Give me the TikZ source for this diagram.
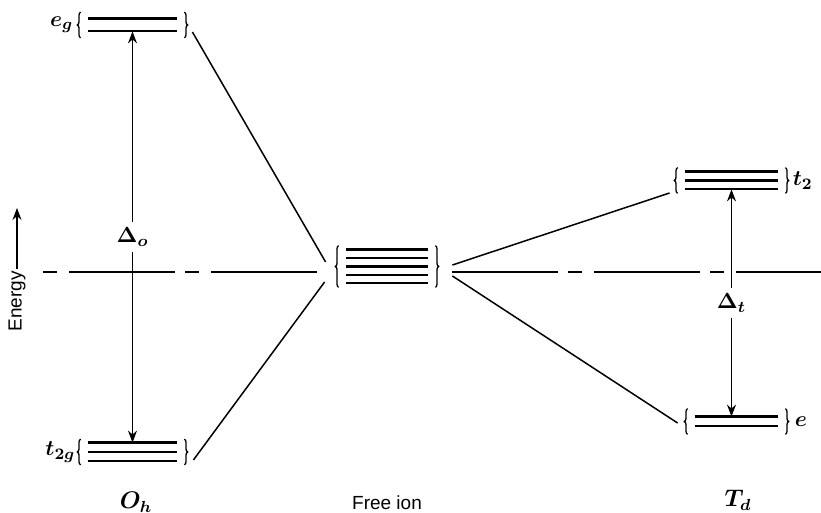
\documentclass[tikz,border=0pt]{standalone}
\usepackage{fontspec}
\setsansfont{Liberation Sans}
\usetikzlibrary{positioning, arrows.meta, calc, decorations.pathreplacing}

\begin{document}
\begin{tikzpicture}[
    x=0.5pt, y=-0.5pt,
    >={Stealth[length=6pt, width=4.5pt, inset=2pt]},
    lvlset/.style={
        rectangle,
        inner sep=0pt,
        minimum width=#1
    },
    lvl/.style={
        line width=1.1pt
    },
    lbrace/.style={
        decorate,
        decoration={brace, amplitude=1.6pt},
        line width=0.65pt
    },
    link/.style={
        line width=0.75pt
    },
    delta/.style={
        <->,
        line width=0.7pt
    },
    refline/.style={
        line width=0.75pt,
        dash pattern=on 7pt off 6pt on 53pt off 5pt
    },
    sym/.style={
        font=\fontsize{11}{13}\selectfont\boldmath,
        inner sep=1pt
    },
    word/.style={
        font=\sffamily\fontsize{9.5}{11}\selectfont
    }
]

\useasboundingbox (0,0) rectangle (821,513);

% Level sets
\node[lvlset=44.5pt, minimum height=6pt] (eg) at (132.5,25) {};
\node[lvlset=44.5pt, minimum height=9pt] (t2g) at (132.5,452) {};
\node[lvlset=41pt, minimum height=16.5pt] (free) at (387,266.5) {};
\node[lvlset=46.5pt, minimum height=8.5pt] (t2) at (731.5,180.5) {};
\node[lvlset=41.5pt, minimum height=4.5pt] (e) at (736.5,421.5) {};

% Levels
\foreach \n/\k in {eg/2, t2g/3, free/5, t2/3, e/2} {
    \pgfmathtruncatemacro\nlast{\k-1}
    \foreach \i in {0,...,\nlast} {
        \pgfmathsetmacro\f{\i/\nlast}
        \draw[lvl] ($(\n.north west)!\f!(\n.south west)$) -- ($(\n.north east)!\f!(\n.south east)$);
    }
}

% Braces
\foreach \n/\ext in {eg/6.5, t2g/3.5, free/4, t2/4, e/8} {
    \draw[lbrace] ([shift={(-7,\ext)}]\n.south west) -- ([shift={(-7,-\ext)}]\n.north west);
    \draw[lbrace] ([shift={(7,-\ext)}]\n.north east) -- ([shift={(7,\ext)}]\n.south east);
}

% Labels
\node[sym, anchor=east] (eglab) at ([xshift=-6pt]eg.west) {$e_g$};
\node[sym, anchor=east] (t2glab) at ([xshift=-5pt]t2g.west) {$t_{2g}$};
\node[sym, anchor=west] (t2lab) at ([xshift=6pt]t2.east) {$t_2$};
\node[sym, anchor=west] (elab) at ([xshift=7pt]e.east) {$e$};

\node[sym, font=\large\boldmath] (oh) at (136,502) {$O_h$};
\node[word] (freelab) at (387,503) {Free ion};
\node[sym, font=\large\boldmath] (td) at (738,500) {$T_d$};

% Energy axis
\node[word, rotate=90, anchor=east, inner sep=1pt] (energy) at (17,269) {Energy};
\draw[->, line width=0.75pt] (energy.east) -- ++(0,-61);

% Splittings
\draw[delta] (eg.south) -- node[sym, fill=white, inner sep=3pt] (dlo) {$\Delta_o$} (t2g.north);
\draw[delta] (t2.south) -- node[sym, fill=white, inner sep=3pt] (dlt) {$\Delta_t$} (t2.south |- e.north);

% Correlation lines
\draw[link] ([shift={(15,7)}]eg.east) -- ([shift={(-20,-4.5)}]free.west);
\draw[link] ([shift={(16,8)}]t2g.east) -- ([shift={(-21,15.5)}]free.west);
\draw[link] ([shift={(24,-1.5)}]free.east) -- ([shift={(-15,12.5)}]t2.west);
\draw[link] ([shift={(24,9.5)}]free.east) -- ([shift={(-17,1.5)}]e.west);

% Barycentre
\coordinate (baseL) at (43,272);
\coordinate (baseR) at (821,272);
\coordinate (freeL) at ([xshift=-12pt]free.west);
\coordinate (freeR) at ([xshift=12pt]free.east);
\draw[refline] (baseL) -- (freeL |- baseL);
\draw[refline, dash phase=13pt] (freeR |- baseR) -- (baseR);

\end{tikzpicture}
\end{document}
